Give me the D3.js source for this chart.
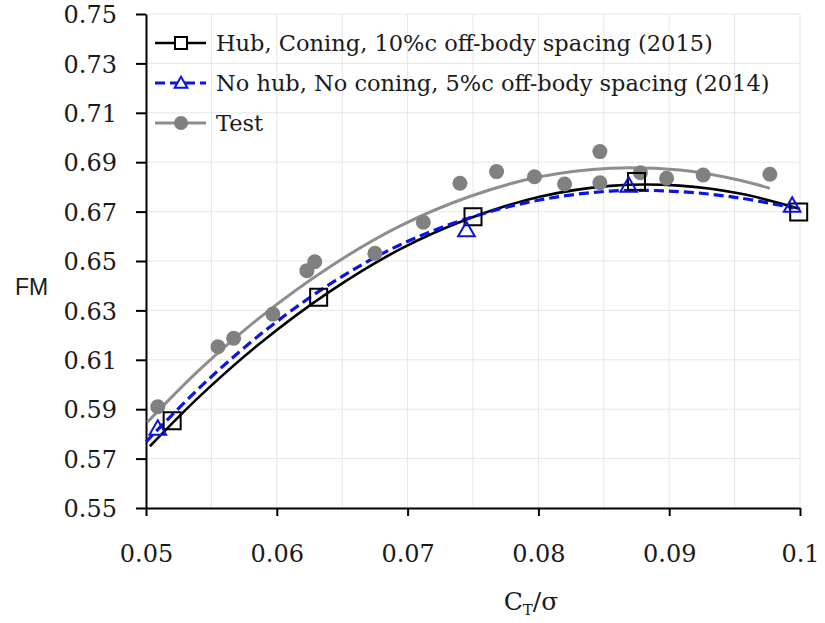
<!doctype html>
<meta charset="utf-8">
<style>
body { margin: 0; background: #fff; }
.axis text { font-family: "DejaVu Serif", serif; font-size: 24px; fill: #1a1a1a; }
.axis path, .axis line { stroke: #000; stroke-width: 2; }
.grid line { stroke: #e6e6e6; stroke-width: 1; }
.legend text { font-family: "DejaVu Serif", serif; font-size: 22.5px; fill: #1a1a1a; }
</style>
<body>
<div id="viz"></div>
<script src="https://cdn.jsdelivr.net/npm/d3@7"></script>
<script>
// FM vs CT/sigma: two CFD runs and the test data, each with its trendline

var xTicks = [0.05, 0.06, 0.07, 0.08, 0.09, 0.1];
var xTickLabels = ["0.05", "0.06", "0.07", "0.08", "0.09", "0.1"];
var yTicks = [0.55, 0.57, 0.59, 0.61, 0.63, 0.65, 0.67, 0.69, 0.71, 0.73, 0.75];
var yTickLabels = ["0.55", "0.57", "0.59", "0.61", "0.63", "0.65", "0.67", "0.69", "0.71", "0.73", "0.75"];
var xGrid = [0.055, 0.06, 0.065, 0.07, 0.075, 0.08, 0.085, 0.09, 0.095, 0.1];

var seriesNames = ["Hub, Coning, 10%c off-body spacing (2015)",
                   "No hub, No coning, 5%c off-body spacing (2014)",
                   "Test"];

// Hub, coning (2015)
var hubCT = [0.0520, 0.0632, 0.0750, 0.0875, 0.0999];
var hubFM = [0.5853, 0.6353, 0.6679, 0.6822, 0.6698];
var hubFitCT = [0.0503, 0.0541, 0.0587, 0.0641, 0.0694, 0.0748, 0.0801, 0.0855, 0.0908, 0.0954, 0.1000];
var hubFitFM = [0.5750, 0.5952, 0.6166, 0.6378, 0.6547, 0.6674, 0.6760, 0.6804, 0.6805, 0.6773, 0.6711];

// No hub, no coning (2014)
var noHubCT = [0.0509, 0.0745, 0.0869, 0.0994];
var noHubFM = [0.5824, 0.6628, 0.6808, 0.6727];
var noHubFitCT = [0.0500, 0.0541, 0.0587, 0.0641, 0.0694, 0.0748, 0.0801, 0.0855, 0.0908, 0.0954, 0.0995];
var noHubFitFM = [0.5768, 0.5987, 0.6201, 0.6408, 0.6565, 0.6676, 0.6747, 0.6783, 0.6781, 0.6755, 0.6715];

// Test
var testCT = [0.0509, 0.0555, 0.0567, 0.0597, 0.0623, 0.0629, 0.0675, 0.0712, 0.0740, 0.0768,
              0.0797, 0.0820, 0.0847, 0.0847, 0.0878, 0.0898, 0.0926, 0.0977];
var testFM = [0.5910, 0.6153, 0.6187, 0.6285, 0.6461, 0.6497, 0.6531, 0.6657, 0.6815, 0.6862,
              0.6841, 0.6812, 0.6943, 0.6817, 0.6857, 0.6835, 0.6848, 0.6851];
var testFitCT = [0.0501, 0.0541, 0.0587, 0.0641, 0.0694, 0.0748, 0.0801, 0.0855, 0.0908, 0.0954, 0.0977];
var testFitFM = [0.5847, 0.6060, 0.6271, 0.6478, 0.6641, 0.6762, 0.6841, 0.6876, 0.6868, 0.6827, 0.6794];

var W = 825, H = 623;
var margin = {top: 14, right: 25, bottom: 115, left: 146};
var width = W - margin.left - margin.right,
    height = H - margin.top - margin.bottom;

var svg = d3.select("#viz").append("svg").attr("width", W).attr("height", H)
    .style("background", "#fff");
var g = svg.append("g").attr("transform", "translate(" + margin.left + "," + margin.top + ")");

var x = d3.scaleLinear().domain([0.05, 0.1]).range([0, width]);
var y = d3.scaleLinear().domain([0.55, 0.75]).range([height, 0]);

function zip(a, b) { return a.map(function(v, i) { return [v, b[i]]; }); }

// grid
var grid = g.append("g").attr("class", "grid");
grid.selectAll("line.v").data(xGrid).enter().append("line").attr("class", "v")
    .attr("x1", function(d) { return x(d); }).attr("x2", function(d) { return x(d); })
    .attr("y1", 0).attr("y2", height);
grid.selectAll("line.h").data(yTicks.slice(1)).enter().append("line").attr("class", "h")
    .attr("x1", 0).attr("x2", width)
    .attr("y1", function(d) { return y(d); }).attr("y2", function(d) { return y(d); });

// axes
g.append("g").attr("class", "axis")
    .call(d3.axisLeft(y).tickValues(yTicks).tickFormat(function(d, i) { return yTickLabels[i]; })
        .tickSize(10).tickSizeOuter(0).tickPadding(19))
    .selectAll("text").attr("dy", "0.36em");
g.append("g").attr("class", "axis").attr("transform", "translate(0," + height + ")")
    .call(d3.axisBottom(x).tickValues(xTicks).tickFormat(function(d, i) { return xTickLabels[i]; })
        .tickSize(8).tickSizeOuter(0).tickPadding(29));

// trendlines
var line = d3.line().x(function(d) { return x(d[0]); }).y(function(d) { return y(d[1]); })
    .curve(d3.curveCatmullRom.alpha(0.5));

g.append("path").datum(zip(testFitCT, testFitFM)).attr("d", line)
    .attr("fill", "none").attr("stroke", "#8e8e8e").attr("stroke-width", 3);
g.append("path").datum(zip(hubFitCT, hubFitFM)).attr("d", line)
    .attr("fill", "none").attr("stroke", "#000").attr("stroke-width", 2.6);
g.append("path").datum(zip(noHubFitCT, noHubFitFM)).attr("d", line)
    .attr("fill", "none").attr("stroke", "#0a14e6").attr("stroke-width", 3.2)
    .attr("stroke-dasharray", "10,5");

// markers
var square = d3.symbol().type(d3.symbolSquare).size(17 * 17);
var triangle = d3.symbol().type(d3.symbolTriangle).size(120);

g.selectAll("circle.test").data(zip(testCT, testFM)).enter().append("circle").attr("class", "test")
    .attr("cx", function(d) { return x(d[0]); }).attr("cy", function(d) { return y(d[1]); })
    .attr("r", 7.5).attr("fill", "#808080");
g.selectAll("path.hub").data(zip(hubCT, hubFM)).enter().append("path").attr("class", "hub")
    .attr("d", square)
    .attr("transform", function(d) { return "translate(" + x(d[0]) + "," + y(d[1]) + ")"; })
    .attr("fill", "none").attr("stroke", "#000").attr("stroke-width", 2);
g.selectAll("path.nohub").data(zip(noHubCT, noHubFM)).enter().append("path").attr("class", "nohub")
    .attr("d", triangle)
    .attr("transform", function(d) { return "translate(" + x(d[0]) + "," + (y(d[1]) + 2) + ")"; })
    .attr("fill", "none").attr("stroke", "#0a14e6").attr("stroke-width", 2);

// legend
var legend = svg.append("g").attr("class", "legend");
var rows = legend.selectAll("g").data(seriesNames).enter().append("g")
    .attr("transform", function(d, i) { return "translate(155," + (43 + i * 40) + ")"; });
rows.append("text").attr("x", 61).attr("dy", "0.36em").text(function(d) { return d; });

var r0 = d3.select(rows.nodes()[0]);
r0.append("line").attr("x1", 0).attr("x2", 51).attr("stroke", "#000").attr("stroke-width", 2.6);
r0.append("path").attr("d", d3.symbol().type(d3.symbolSquare).size(12 * 12))
    .attr("transform", "translate(26,0)").attr("fill", "#fff").attr("stroke", "#000").attr("stroke-width", 2);

var r1 = d3.select(rows.nodes()[1]);
r1.append("line").attr("x1", 0).attr("x2", 51).attr("stroke", "#0a14e6").attr("stroke-width", 3.2)
    .attr("stroke-dasharray", "10,5");
r1.append("path").attr("d", d3.symbol().type(d3.symbolTriangle).size(70))
    .attr("transform", "translate(26,1)").attr("fill", "#fff").attr("stroke", "#0a14e6").attr("stroke-width", 2);

var r2 = d3.select(rows.nodes()[2]);
r2.append("line").attr("x1", 0).attr("x2", 51).attr("stroke", "#8e8e8e").attr("stroke-width", 3);
r2.append("circle").attr("cx", 26).attr("r", 7).attr("fill", "#808080");

// axis titles
svg.append("text").attr("x", 15).attr("y", 295)
    .style("font-family", "'Liberation Sans', sans-serif").style("font-size", "23px").style("fill", "#1a1a1a")
    .text("FM");

var xt = svg.append("text").attr("x", 531).attr("y", 610).attr("text-anchor", "middle")
    .style("font-family", "'DejaVu Serif', serif").style("font-size", "25px").style("fill", "#1a1a1a");
xt.append("tspan").text("C");
xt.append("tspan").attr("dy", 5).style("font-size", "15px").text("T");
xt.append("tspan").attr("dy", -5).text("/σ");
</script>
</body>
